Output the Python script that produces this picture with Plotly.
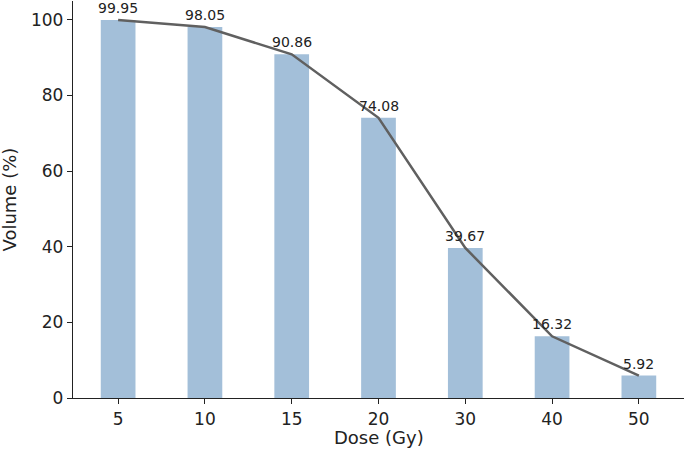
import plotly.graph_objects as go

doses = ["5", "10", "15", "20", "30", "40", "50"]
volumes = [99.95, 98.05, 90.86, 74.08, 39.67, 16.32, 5.92]
yticks = [0, 20, 40, 60, 80, 100]

xpos = list(range(len(doses)))
labels = [f"{v:.2f}" for v in volumes]

fig = go.Figure()
fig.add_trace(go.Bar(x=xpos, y=volumes, width=0.4, marker=dict(color="#a3bfd9", line=dict(width=0)),
                     hoverinfo="skip"))
fig.add_trace(go.Scatter(x=xpos, y=volumes, mode="lines",
                         line=dict(color="#606060", width=2.5)))

annotations = [
    dict(text=t, x=xi, y=v, xref="x", yref="y", xanchor="center", yanchor="bottom",
         yshift=2, showarrow=False, font=dict(size=14, color="#222222"))
    for xi, v, t in zip(xpos, volumes, labels)
]
annotations += [
    dict(text="Dose (Gy)", xref="paper", yref="paper", x=0.5, y=0, yshift=-39,
         xanchor="center", yanchor="middle", showarrow=False, font=dict(size=18)),
    dict(text="Volume (%)", xref="paper", yref="paper", x=0, y=0.5, xshift=-64,
         xanchor="center", yanchor="middle", textangle=-90, showarrow=False,
         font=dict(size=18)),
]

fig.update_layout(
    width=685, height=455,
    margin=dict(l=73, r=1, t=1, b=57),
    plot_bgcolor="white", paper_bgcolor="white",
    showlegend=False,
    font=dict(family="DejaVu Sans", size=17, color="#222222"),
    xaxis=dict(range=[-0.52, 6.52], tickvals=xpos, ticktext=doses, automargin=False,
               showline=True, linecolor="#222222", linewidth=1.3,
               ticks="outside", ticklen=5, tickcolor="#222222",
               showgrid=False, zeroline=False),
    yaxis=dict(range=[0, 104.95], tickvals=yticks, automargin=False,
               showline=True, linecolor="#222222", linewidth=1.3,
               ticks="outside", ticklen=5, tickcolor="#222222",
               showgrid=False, zeroline=False),
    annotations=annotations,
)
fig.write_html("out.html", config={"displayModeBar": False},
               post_script="document.body.style.margin='0';")
